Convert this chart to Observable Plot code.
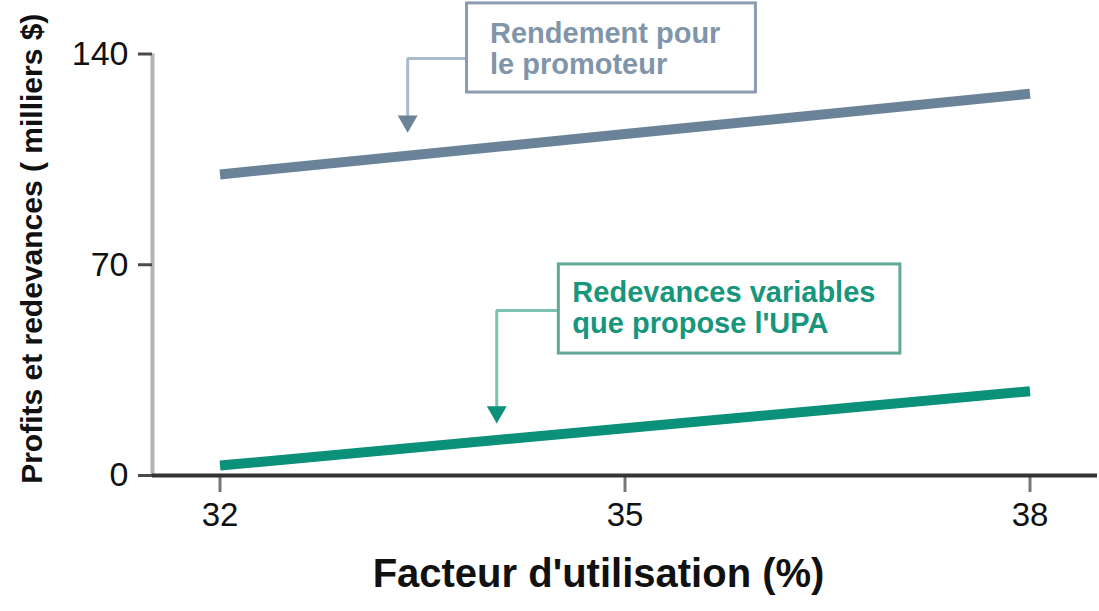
<!DOCTYPE html>
<html>
<head>
<meta charset="utf-8">
<script src="https://cdn.jsdelivr.net/npm/d3@7"></script>
<script src="https://cdn.jsdelivr.net/npm/@observablehq/plot@0.6"></script>
<style>
html, body { margin: 0; padding: 0; background: #fff; }
#chart svg { display: block; }
</style>
</head>
<body>
<div id="chart"></div>
<script>
// ---- data ----
const utilisation = [32, 35, 38];
const rendementPromoteur = [100, 113.4, 126.8];
const redevancesUPA = [3.3, 15.7, 28];
const xTicks = [32, 35, 38];
const yTicks = [0, 70, 140];
const xAxisExtent = [31.5, 38.5];
const seriesNames = ["Rendement pour le promoteur", "Redevances variables que propose l'UPA"];
const seriesColors = ["#6b8399", "#0b9079"];
const xTitle = "Facteur d'utilisation (%)";
const yTitle = "Profits et redevances ( milliers $)";

// ---- callouts (data coordinates) ----
const calloutLabels = ["Rendement pour\nle promoteur", "Redevances variables\nque propose l'UPA"];
const calloutTextColors = ["#8095a9", "#17967c"];
const calloutBorderColors = ["#8a9db0", "#62a797"];
const calloutLeaderColors = ["#a9bbcb", "#7cc3b3"];
const calloutArrowColors = ["#6b8399", "#0b9079"];
const calloutBoxX1 = [33.83, 34.51];
const calloutBoxX2 = [35.97, 37.04];
const calloutBoxYTop = [156.8, 70.1];
const calloutBoxYBottom = [127.2, 40.5];
const calloutTextX = [34.00, 34.61];
const calloutTextY = [151.1, 64.8];
const calloutLeaderX = [33.39, 34.05];
const calloutLeaderY = [138.5, 54.8];
const calloutArrowBaseY = [119.6, 22.9];
const calloutArrowY = [117.7, 21.1];

// ---- tables ----
const lineData = utilisation.flatMap((x, i) => [
  {x, y: rendementPromoteur[i], s: seriesNames[0]},
  {x, y: redevancesUPA[i], s: seriesNames[1]}
]);

const calloutMarks = calloutLabels.flatMap((label, i) => {
  const leader = [
    {x: calloutBoxX1[i], y: calloutLeaderY[i]},
    {x: calloutLeaderX[i], y: calloutLeaderY[i]},
    {x: calloutLeaderX[i], y: calloutArrowBaseY[i]}
  ];
  return [
    Plot.line(leader, {x: "x", y: "y", stroke: calloutLeaderColors[i], strokeWidth: 3, strokeLinejoin: "miter"}),
    Plot.dot([{x: calloutLeaderX[i], y: calloutArrowY[i]}], {x: "x", y: "y", symbol: "triangle2", rotate: 180, r: 9.5, fill: calloutArrowColors[i], stroke: "none"}),
    Plot.rect([0], {x1: calloutBoxX1[i], x2: calloutBoxX2[i], y1: calloutBoxYBottom[i], y2: calloutBoxYTop[i], fill: "#ffffff", stroke: calloutBorderColors[i], strokeWidth: 3}),
    Plot.text([label], {x: calloutTextX[i], y: calloutTextY[i], text: d => d, textAnchor: "start", lineAnchor: "top", lineHeight: 1.07, fontSize: 29, fontWeight: "bold", fill: calloutTextColors[i]})
  ];
});

const chart = Plot.plot({
  width: 1099,
  height: 611,
  marginLeft: 152,
  marginRight: 2,
  marginTop: 53.5,
  marginBottom: 136,
  x: {domain: xAxisExtent},
  y: {domain: [0, 140]},
  color: {domain: seriesNames, range: seriesColors},
  style: {fontFamily: "'Liberation Sans', Arial, sans-serif", background: "#ffffff", overflow: "visible"},
  marks: [
    Plot.ruleX([xAxisExtent[0]], {y1: yTicks[0], y2: yTicks[yTicks.length - 1], stroke: "#b4b4b4", strokeWidth: 4}),
    Plot.axisY(yTicks, {tickSize: 14, tickPadding: 10, fontSize: 34, stroke: "#4a4a4a", strokeWidth: 3, fill: "#111", label: null, tickFormat: d => String(d)}),
    Plot.axisX(xTicks, {tickSize: 17, tickPadding: 10, fontSize: 33, stroke: "#777", strokeWidth: 3, fill: "#111", label: null, tickFormat: d => String(d)}),
    Plot.ruleY([0], {x1: xAxisExtent[0], x2: xAxisExtent[1], stroke: "#333", strokeWidth: 4}),
    Plot.line(lineData, {x: "x", y: "y", z: "s", stroke: "s", strokeWidth: 10, strokeLinecap: "butt"}),
    ...calloutMarks,
    Plot.text([xTitle], {frameAnchor: "bottom", textAnchor: "middle", dx: -26.5, dy: 111, fontSize: 40, fontWeight: "bold", fill: "#111"}),
    Plot.text([yTitle], {frameAnchor: "left", textAnchor: "middle", rotate: -90, dx: -120, dy: -16, fontSize: 30, fontWeight: "bold", fill: "#111"})
  ]
});
document.getElementById("chart").appendChild(chart);
</script>
</body>
</html>
